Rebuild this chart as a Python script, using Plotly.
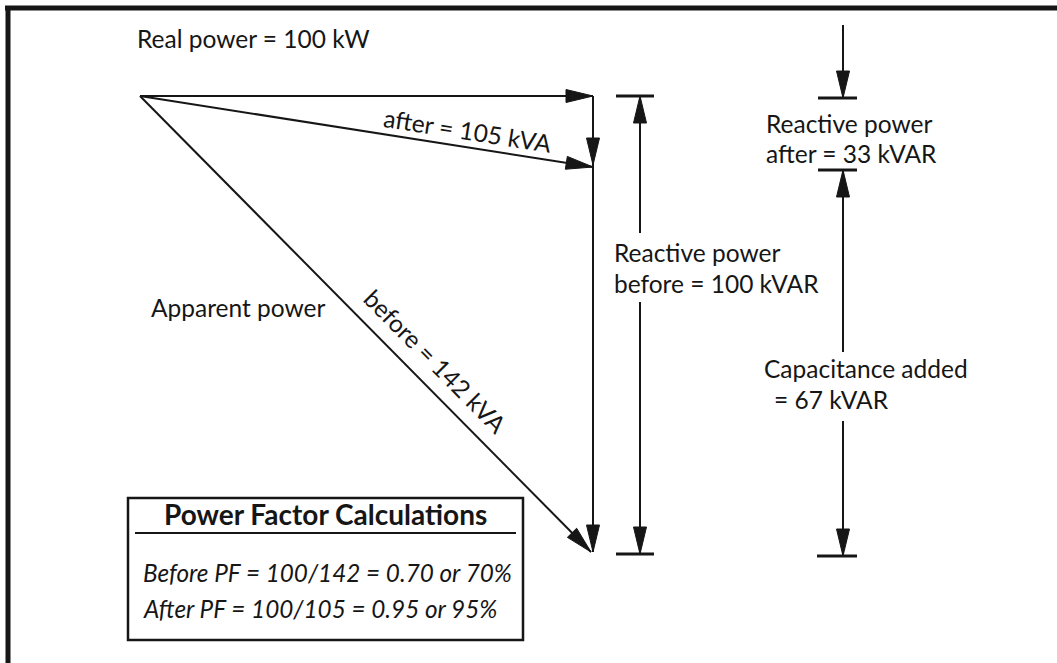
import plotly.graph_objects as go

# ---------------- data (values shown in the diagram) ----------------
real_power_kw = 100
reactive_before_kvar = 100
reactive_after_kvar = 33
capacitance_kvar = 67
apparent_before_kva = 142
apparent_after_kva = 105
pf_before = 0.70
pf_after = 0.95

# ---------------- layout (pixel-based drawing canvas) ----------------
W, H = 1057, 663
INK = "#161616"
FONT = "Lato"
FS = 24.5                   # label font size

ORIGIN = (140, 96)          # tail of the power triangle
PX_PER_KW = 4.53            # horizontal drawing scale
PX_PER_KVAR = 4.56          # vertical drawing scale (before leg)
AFTER_Y = 167               # schematic depth of the "after" vertex
ARROW_L, ARROW_W = 27, 13

x_end = ORIGIN[0] + real_power_kw * PX_PER_KW
y_before = ORIGIN[1] + reactive_before_kvar * PX_PER_KVAR

fig = go.Figure()


def seg(p, q, width=2):
    fig.add_trace(go.Scatter(x=[p[0], q[0]], y=[p[1], q[1]], mode="lines",
                             line=dict(color=INK, width=width),
                             hoverinfo="skip", showlegend=False))


def head(tip, frm):
    dx, dy = tip[0] - frm[0], tip[1] - frm[1]
    n = (dx * dx + dy * dy) ** 0.5
    ux, uy = dx / n, dy / n
    bx, by = tip[0] - ARROW_L * ux, tip[1] - ARROW_L * uy
    px, py = -uy * ARROW_W / 2, ux * ARROW_W / 2
    fig.add_trace(go.Scatter(x=[tip[0], bx + px, bx - px, tip[0]],
                             y=[tip[1], by + py, by - py, tip[1]],
                             mode="lines", fill="toself", fillcolor=INK,
                             line=dict(color=INK, width=1),
                             hoverinfo="skip", showlegend=False))


def text(x, y, s, size=FS, xanchor="left", angle=0, bold=False, italic=False):
    if bold:
        s = "<b>" + s + "</b>"
    if italic:
        s = "<i>" + s + "</i>"
    fig.add_annotation(x=x, y=y, text=s, showarrow=False, xanchor=xanchor,
                       yanchor="middle", textangle=angle,
                       font=dict(family=FONT, size=size, color=INK))


# ---------------- power triangle ----------------
P_real = (x_end, ORIGIN[1])
P_after = (x_end, AFTER_Y)
P_before = (x_end - 2, y_before)

seg(ORIGIN, P_real)
head(P_real, ORIGIN)
seg(ORIGIN, P_after)
head(P_after, ORIGIN)
seg(ORIGIN, P_before)
head(P_before, ORIGIN)
seg(P_real, (x_end, y_before))
head((x_end, AFTER_Y - 2), P_real)
head((x_end, y_before), P_real)

# ---------------- "before" dimension ----------------
DX1 = 640
seg((616, ORIGIN[1]), (654, ORIGIN[1]), 3)
seg((DX1, ORIGIN[1]), (DX1, 233))
head((DX1, ORIGIN[1]), (DX1, 233))
seg((DX1, 302), (DX1, y_before + 2))
head((DX1, y_before + 2), (DX1, 302))
seg((616, y_before + 2), (654, y_before + 2), 3)

# ---------------- right dimension ----------------
DX2 = 843
seg((DX2, 25), (DX2, 98))
head((DX2, 98), (DX2, 25))
seg((818, 98), (857, 98), 3)
seg((818, 170), (857, 170), 3)
seg((DX2, 170), (DX2, 352))
head((DX2, 170), (DX2, 352))
seg((DX2, 421), (DX2, 556))
head((DX2, 556), (DX2, 421))
seg((817, 556), (857, 556), 3)

# ---------------- labels ----------------
text(135, 38, f"Real power = {real_power_kw} kW")
text(468, 130, f"after = {apparent_after_kva} kVA", xanchor="center", angle=8.9)
text(149, 307, "Apparent power")
text(436, 361, f"before = {apparent_before_kva} kVA", xanchor="center", angle=45.3)
text(612, 252, "Reactive power")
text(612, 283, f"before = {reactive_before_kvar} kVAR")
text(764, 123, "Reactive power")
text(764, 153, f"after = {reactive_after_kvar} kVAR")
text(762, 368, "Capacitance added")
text(772, 399, f"= {capacitance_kvar} kVAR")

# ---------------- calculation box ----------------
fig.add_shape(type="rect", x0=128, y0=498, x1=523, y1=640,
              line=dict(color=INK, width=2.5), fillcolor="white", layer="below")
fig.add_shape(type="line", x0=135, y0=533, x1=516, y1=533,
              line=dict(color=INK, width=2))
text(325, 514, "Power Factor Calculations", size=28, xanchor="center", bold=True)
text(141, 572,
     f"Before PF = {real_power_kw}/{apparent_before_kva} = {pf_before:.2f} or {round(pf_before * 100)}%",
     size=24.3, italic=True)
text(141, 608,
     f"After PF = {real_power_kw}/{apparent_after_kva} = {pf_after:.2f} or {round(pf_after * 100)}%",
     size=24.3, italic=True)

# ---------------- outer frame (top and left edges visible) ----------------
fig.add_shape(type="line", x0=5, y0=8, x1=W, y1=8, line=dict(color=INK, width=5))
fig.add_shape(type="line", x0=8, y0=6, x1=8, y1=H, line=dict(color=INK, width=5))

fig.update_xaxes(range=[0, W], visible=False, fixedrange=True)
fig.update_yaxes(range=[H, 0], visible=False, fixedrange=True)
fig.update_layout(width=W, height=H, autosize=False,
                  margin=dict(l=0, r=0, t=0, b=0, pad=0),
                  paper_bgcolor="white", plot_bgcolor="white",
                  showlegend=False)

fig.write_html("out.html", config={"displayModeBar": False},
               post_script="document.body.style.margin='0';document.body.style.overflow='hidden';")
